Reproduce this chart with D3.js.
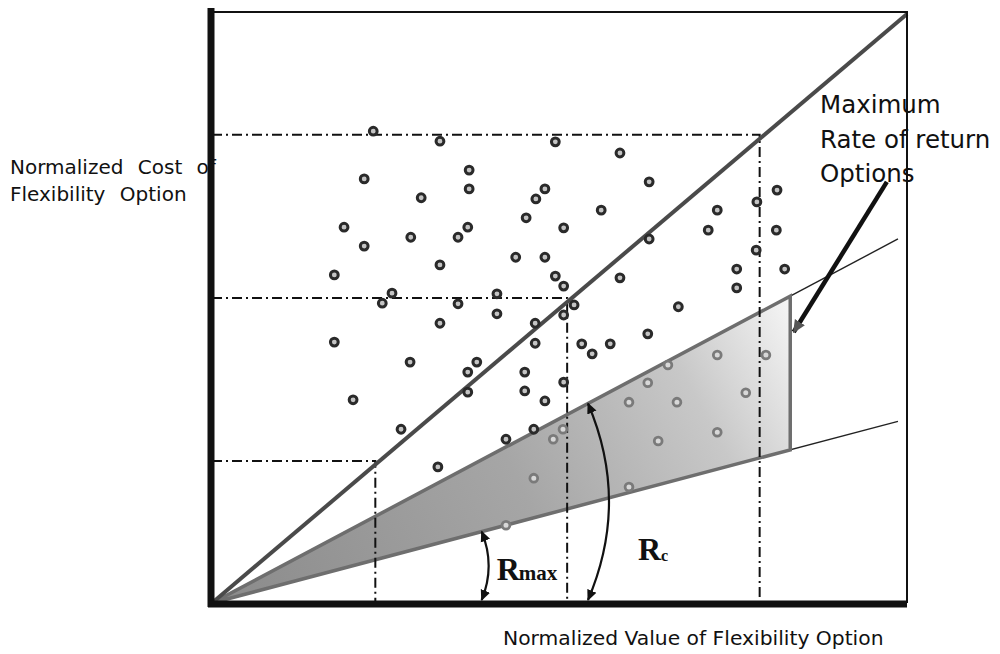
<!DOCTYPE html>
<html><head><meta charset="utf-8">
<script src="https://cdn.jsdelivr.net/npm/d3@7"></script>
<style>body{margin:0;background:#fff}svg{display:block}</style>
</head><body><svg id="c" width="1000" height="654"></svg>
<script>
// ---- data (normalized units 0..100) ----
const outsidePoints = [
[23.2,80.1],[32.8,78.4],[49.4,78.3],[58.7,76.4],[21.9,72.0],[37.0,73.5],[37.0,70.3],[30.1,68.8],
[47.9,70.3],[46.6,68.6],[62.9,71.5],[56.0,66.7],[45.2,65.4],[50.6,63.7],[36.8,63.8],[35.4,62.1],
[28.6,62.1],[19.0,63.8],[21.9,60.6],[72.7,66.7],[71.4,63.3],[81.2,63.3],[81.3,70.1],[78.4,68.1],
[62.9,61.8],[78.3,59.9],[43.7,58.7],[47.9,58.7],[32.8,57.4],[17.6,55.7],[49.4,55.5],[58.7,55.2],
[75.5,56.7],[82.4,56.7],[50.6,53.8],[25.9,52.6],[24.5,50.9],[41.0,52.5],[35.4,50.8],[75.5,53.5],
[52.1,50.6],[50.6,48.9],[41.0,49.1],[67.1,50.3],[32.8,47.5],[46.5,47.5],[17.6,44.3],[62.7,45.7],
[46.5,44.1],[53.2,44.0],[54.7,42.3],[57.3,44.0],[28.5,40.9],[38.1,40.9],[36.8,39.2],[45.0,39.2],
[50.6,37.5],[36.8,35.8],[45.0,36.0],[47.9,34.3],[20.3,34.5],[27.2,29.5],[46.3,29.5],[42.3,27.8],
[32.5,23.1]
];
const wedgePoints = [
[50.5,29.5],[49.1,27.8],[46.3,21.2],[42.3,13.2],[65.6,40.4],[72.7,42.1],[79.7,42.1],[62.7,37.4],
[76.8,35.7],[60.0,34.1],[66.9,34.1],[72.7,29.0],[64.2,27.5],[60.0,19.7]
];
const guideX = [23.5, 51.1, 78.8];
const guideY = [24.1, 51.8, 79.5];
const wedgeEndX = 83.2;
const wedgeUpperY = 52.1;
const wedgeLowerY = 26.0;
const rayEndX = 98.7;
const rmaxAtX = 38.8;
const rcAtX = 54.1;
const maxArrowFrom = [97.1, 71.5];
const maxArrowTo = [83.7, 46.0];
const yLabelLines = ["Normalized Cost of", "Flexibility Option"];
const xLabel = "Normalized Value of Flexibility Option";
const noteLines = ["Maximum", "Rate of return", "Options"];

// ---- scales ----
const x = d3.scaleLinear().domain([0,100]).range([212,907]);
const y = d3.scaleLinear().domain([0,100]).range([603,14]);

const svg = d3.select("#c");
svg.append("rect").attr("width",1000).attr("height",654).attr("fill","#fff");
const defs = svg.append("defs");

const upSlope = wedgeUpperY / wedgeEndX;
const loSlope = wedgeLowerY / wedgeEndX;

// gradient
const grad = defs.append("linearGradient").attr("id","wg")
  .attr("gradientUnits","userSpaceOnUse")
  .attr("x1",x(0)).attr("y1",y(0)).attr("x2",x(wedgeEndX)).attr("y2",y(wedgeUpperY));
[[0,"#8a8a8a"],[0.5,"#a6a6a6"],[0.8,"#c8c8c8"],[1,"#f6f6f6"]].forEach(s=>
  grad.append("stop").attr("offset",s[0]).attr("stop-color",s[1]));

// arrowhead markers
function marker(id, size, color){
  defs.append("marker").attr("id",id).attr("viewBox","0 0 10 10")
    .attr("refX",9).attr("refY",5).attr("markerUnits","userSpaceOnUse")
    .attr("markerWidth",size).attr("markerHeight",size)
    .attr("orient","auto-start-reverse")
    .append("path").attr("d","M0,0.5 L10,5 L0,9.5 z").attr("fill",color);
}
marker("ah", 11, "#111");
marker("ah2", 13, "#555");

const line = d3.line().x(d=>x(d[0])).y(d=>y(d[1]));

// shaded wedge
svg.append("path")
  .attr("d", line([[0,0],[wedgeEndX,wedgeUpperY],[wedgeEndX,wedgeLowerY]]) + "Z")
  .attr("fill","url(#wg)");

// thin ray continuations
svg.append("path").attr("d", line([[wedgeEndX, wedgeUpperY],[rayEndX, rayEndX*upSlope]]))
  .attr("stroke","#222").attr("stroke-width",1.4).attr("fill","none");
svg.append("path").attr("d", line([[wedgeEndX*0.93, wedgeEndX*0.93*loSlope],[rayEndX, rayEndX*loSlope]]))
  .attr("stroke","#222").attr("stroke-width",1.4).attr("fill","none");

// wedge boundary (gray)
svg.append("path")
  .attr("d", line([[0,0],[wedgeEndX,wedgeUpperY],[wedgeEndX,wedgeLowerY],[0,0]]))
  .attr("stroke","#6e6e6e").attr("stroke-width",3.5).attr("fill","none").attr("stroke-linejoin","miter");

// guides (dash-dot)
guideX.forEach((gx,i)=>{
  const gy = guideY[i];
  svg.append("path").attr("d", line([[0,gy],[gx,gy],[gx,0]]))
    .attr("stroke","#111").attr("stroke-width",2).attr("fill","none")
    .attr("stroke-dasharray","10,4,2,4");
});

// diagonal
svg.append("path").attr("d", line([[0,0],[100,100]]))
  .attr("stroke","#4a4a4a").attr("stroke-width",4).attr("fill","none");

// points
svg.append("g").selectAll("circle").data(outsidePoints).join("circle")
  .attr("cx",d=>x(d[0])).attr("cy",d=>y(d[1])).attr("r",3.9)
  .attr("fill","#c4c4c4").attr("stroke","#2a2a2a").attr("stroke-width",3);
svg.append("g").selectAll("circle").data(wedgePoints).join("circle")
  .attr("cx",d=>x(d[0])).attr("cy",d=>y(d[1])).attr("r",3.9)
  .attr("fill","#d8d8d8").attr("stroke","#7a7a7a").attr("stroke-width",2.8);

// curved double arrows
function curveArrow(px, slope, bow){
  const x0 = x(px), y0 = y(px*slope), y1 = y(0) - 3;
  const p = d3.path();
  p.moveTo(x0, y0);
  p.quadraticCurveTo(x0 + bow, (y0+y1)/2, x0, y1);
  svg.append("path").attr("d", p.toString()).attr("fill","none")
    .attr("stroke","#111").attr("stroke-width",2.2)
    .attr("marker-start","url(#ah)").attr("marker-end","url(#ah)");
}
curveArrow(rmaxAtX, loSlope, 14);
curveArrow(rcAtX, upSlope, 42);

// Maximum rate arrow
svg.append("path").attr("d", line([maxArrowFrom, maxArrowTo]))
  .attr("stroke","#111").attr("stroke-width",4.5).attr("fill","none")
  .attr("marker-end","url(#ah2)");

// frame
svg.append("line").attr("x1",x(0)).attr("x2",x(100)).attr("y1",y(100)-2).attr("y2",y(100)-2)
  .attr("stroke","#111").attr("stroke-width",2);
svg.append("line").attr("x1",x(100)).attr("x2",x(100)).attr("y1",y(100)-3).attr("y2",y(0))
  .attr("stroke","#111").attr("stroke-width",2);
svg.append("line").attr("x1",x(0)-1).attr("x2",x(0)-1).attr("y1",8).attr("y2",y(0)+4)
  .attr("stroke","#111").attr("stroke-width",7);
svg.append("line").attr("x1",x(0)-4).attr("x2",x(100)).attr("y1",y(0)+1).attr("y2",y(0)+1)
  .attr("stroke","#111").attr("stroke-width",7);

// texts
const sans = "DejaVu Sans, Verdana, sans-serif";
const yl = svg.append("text").attr("font-family",sans).attr("font-size",20).attr("fill","#111")
  .attr("word-spacing",8);
yLabelLines.forEach((t,i)=> yl.append("tspan").attr("x",10).attr("y",174 + i*27).text(t));

svg.append("text").attr("font-family",sans).attr("font-size",20.3).attr("fill","#111")
  .attr("x",503).attr("y",645).text(xLabel);

const nt = svg.append("text").attr("font-family",sans).attr("font-size",24.5).attr("fill","#111");
noteLines.forEach((t,i)=> nt.append("tspan").attr("x",820).attr("y",113 + i*34.5).text(t));

const serif = "Liberation Serif, Times New Roman, serif";
const rm = svg.append("text").attr("font-family",serif).attr("font-weight","bold").attr("fill","#111")
  .attr("x", x(rmaxAtX)+15).attr("y", 580);
rm.append("tspan").attr("font-size",32).text("R");
rm.append("tspan").attr("font-size",21).attr("dx",-1).text("max");

const rc = svg.append("text").attr("font-family",serif).attr("font-weight","bold").attr("fill","#111")
  .attr("x", 638).attr("y", 560);
rc.append("tspan").attr("font-size",32).text("R");
rc.append("tspan").attr("font-size",16).attr("dy",1).text("c");
</script></body></html>
